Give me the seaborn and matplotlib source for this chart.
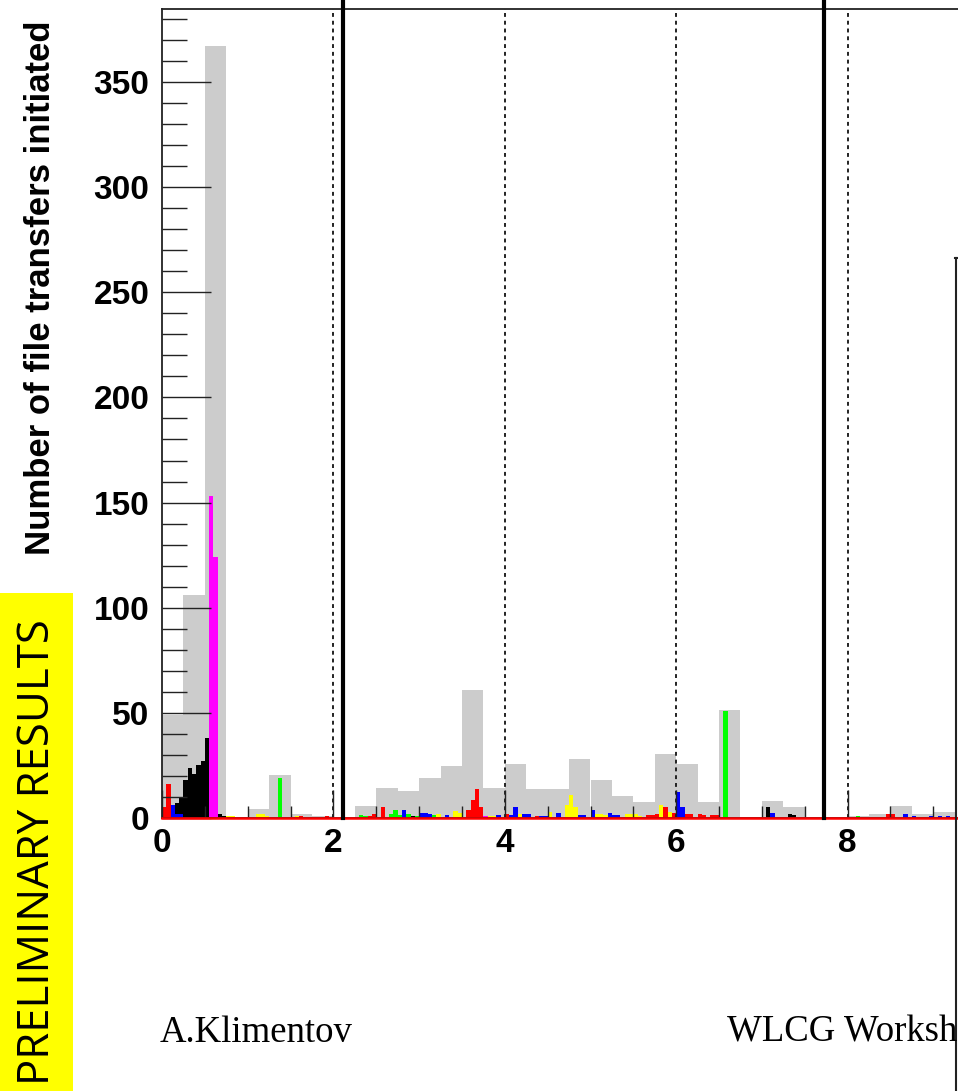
import numpy as np
import pandas as pd
import matplotlib
matplotlib.use("Agg")
import matplotlib.pyplot as plt
from matplotlib.patches import Rectangle
from matplotlib.lines import Line2D
import seaborn as sns

# coarse histogram (all transfers), 0.25 h bins, given by bin centre
gray_x = [0.125, 0.375, 0.625, 0.875, 1.125, 1.375, 1.625, 1.875, 2.125, 2.375,
          2.625, 2.875, 3.125, 3.375, 3.625, 3.875, 4.125, 4.375, 4.625, 4.875,
          5.125, 5.375, 5.625, 5.875, 6.125, 6.375, 6.625, 6.875, 7.125, 7.375,
          7.625, 7.875, 8.125, 8.375, 8.625, 8.875, 9.125]
gray_n = [49, 106, 367, 0, 4.5, 20.5, 2, 1, 0, 5.5,
          14.3, 13, 19, 24.5, 61, 14.4, 25.7, 14, 14, 28,
          18, 10.5, 7.7, 30.4, 25.8, 7.7, 51.3, 0, 8, 5.3,
          0, 0, 1, 2, 5.7, 2, 3]

# fine histograms per site, 0.05 h bins, given by bin centre
black_x = [0.125, 0.175, 0.225, 0.275, 0.325, 0.375, 0.425, 0.475, 0.525, 0.625,
           0.675, 0.725, 2.925, 3.325, 7.075, 7.325, 7.375]
black_n = [3, 7, 10, 18, 24, 21, 25, 27, 38, 3, 2, 1, 1, 1, 5, 2, 1.5]

blue_x = [0.125, 0.175, 0.225, 2.825, 3.025, 3.075, 3.125, 3.325, 3.725, 3.925,
          4.075, 4.125, 4.225, 4.275, 4.425, 4.475, 4.625, 4.875, 4.925, 5.025,
          5.225, 5.275, 5.325, 6.025, 6.075, 7.125, 8.675, 8.775, 8.975, 9.075,
          9.175]
blue_n = [6, 2, 2, 4, 2.5, 2.5, 2, 1.5, 2, 1.5,
          1.5, 5, 2, 2, 1, 1, 2.5, 1.5, 1.5, 4,
          2.5, 1.5, 1.5, 12.5, 5, 2.5, 2, 1, 1, 1,
          1]

green_x = [1.375, 2.325, 2.375, 2.675, 2.725, 2.775, 2.875, 2.975, 3.175, 6.575,
           8.125, 8.525]
green_n = [19, 1.5, 1, 2, 4, 1.5, 2, 1, 1.5, 51, 1, 0.5]

yellow_x = [0.775, 0.825, 1.125, 1.175, 1.225, 1.575, 3.225, 3.425, 3.475, 3.825,
            3.875, 4.175, 4.525, 4.725, 4.775, 4.825, 5.075, 5.125, 5.175, 5.425,
            5.475, 5.525, 5.575, 5.825, 5.925]
yellow_n = [1, 1, 2, 2, 1, 1, 2, 3.5, 2.5, 1,
            1, 2, 3, 6, 11, 5, 2, 2, 1.5, 2,
            2, 2, 1, 6, 3]

red_x = [0.025, 0.075, 1.625, 1.925, 2.425, 2.475, 2.575, 3.575, 3.625, 3.675,
         3.725, 4.025, 4.375, 5.675, 5.725, 5.775, 5.875, 5.975, 6.125, 6.175,
         6.275, 6.325, 6.425, 6.475, 8.475, 8.525]
red_n = [5, 16, 1, 1, 1, 2, 5, 4, 8.5, 14,
         5, 2, 1, 1.5, 1.5, 2, 5, 2.5, 2, 2,
         2, 1.5, 1.5, 1.5, 2, 2]

magenta_x = [0.575, 0.625, 3.775]
magenta_n = [153, 124, 1]

x_ticks = [0, 2, 4, 6, 8]
y_ticks = [0, 50, 100, 150, 200, 250, 300, 350]
dashed_at = [2, 4, 6, 8]
solid_at = [2.112, 7.725]

W, H = 958, 1091
fig = plt.figure(figsize=(W / 100, H / 100), dpi=100)
ax = fig.add_axes([162 / W, 273 / H, 857 / W, 809 / H])

coarse_bins = list(np.arange(0, 10.01, 0.25))
fine_bins = list(np.arange(0, 10.001, 0.05))

gray_df = pd.DataFrame({"hours": gray_x, "n": gray_n})
sns.histplot(data=gray_df, x="hours", weights="n", bins=coarse_bins,
             color="#cccccc", alpha=1, linewidth=0, ax=ax)
for xs, ns, col in [(black_x, black_n, "black"), (blue_x, blue_n, "#0000ff"),
                    (green_x, green_n, "#00ff00"), (yellow_x, yellow_n, "#ffff00"),
                    (red_x, red_n, "#ff0000"), (magenta_x, magenta_n, "#ff00ff")]:
    df = pd.DataFrame({"hours": xs, "n": ns})
    sns.histplot(data=df, x="hours", weights="n", bins=fine_bins, color=col,
                 alpha=1, linewidth=0, ax=ax)

# empty bins of the site histograms show as a line along zero
ax.axhline(0, color="#ff0000", lw=1.8, zorder=5, clip_on=False)
for v in dashed_at:
    ax.axvline(v, color="#222222", lw=1.4, ls=(0, (2, 2)), zorder=4)
for v in solid_at:
    ax.axvline(v, ymin=0, ymax=818 / 809, color="black", lw=3, zorder=6,
               clip_on=False)

ax.set_xlim(0, 10)
ax.set_ylim(0, 384.7)
ax.set_xlabel("")
ax.set_ylabel("")
ax.set_xticks(x_ticks)
ax.set_xticks(np.arange(0, 10.01, 0.5), minor=True)
ax.set_yticks(y_ticks)
ax.set_yticks(np.arange(0, 381, 10), minor=True)
ax.tick_params(axis="both", which="both", direction="in", color="#222222", width=1)
ax.tick_params(axis="y", which="major", length=35, pad=9)
ax.tick_params(axis="y", which="minor", length=18)
ax.tick_params(axis="x", which="major", length=20, pad=7)
ax.tick_params(axis="x", which="minor", length=9)
for lab in ax.get_xticklabels() + ax.get_yticklabels():
    lab.set_fontfamily("Liberation Sans")
    lab.set_fontweight("bold")
    lab.set_fontsize(24)
for s in ax.spines.values():
    s.set_linewidth(1.3)
    s.set_color("#222222")

fig.text(41 / W, 1 - 555 / H, "Number of file transfers initiated", rotation=90,
         ha="center", va="bottom", fontsize=25, fontweight="bold",
         family="Liberation Sans")

fig.patches.append(Rectangle((0, 0), 73 / W, 1 - 593 / H, transform=fig.transFigure,
                             facecolor="#ffff00", edgecolor="none", zorder=0))
fig.text(38 / W, 1 - 852 / H, "PRELIMINARY RESULTS", rotation=90, ha="center",
         va="center", fontsize=31.5, family="Open Sans", color="black")

fig.text(160 / W, 1 - 1042 / H, "A.Klimentov", ha="left", va="baseline",
         fontsize=26.5, family="Liberation Serif")
fig.text(727 / W, 1 - 1042 / H, "WLCG Worksh", ha="left", va="baseline",
         fontsize=26.5, family="Liberation Serif")

fig.add_artist(Line2D([956 / W, 956 / W], [0, 1 - 258 / H], color="#222222", lw=1.5,
                      transform=fig.transFigure))
fig.add_artist(Line2D([955 / W, 958 / W], [1 - 258 / H, 1 - 258 / H], color="#222222",
                      lw=1.5, transform=fig.transFigure))

fig.savefig("out.png", dpi=100)
